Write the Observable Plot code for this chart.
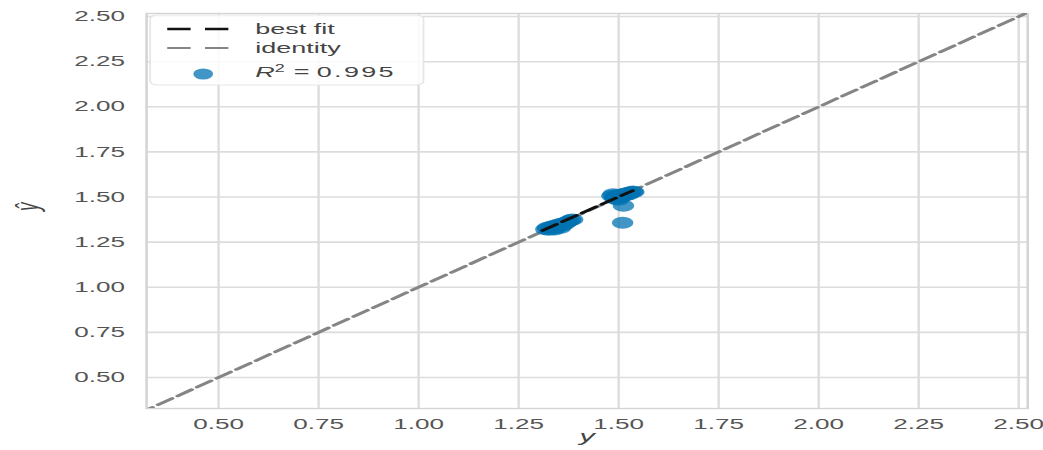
<!DOCTYPE html>
<html><head><meta charset="utf-8">
<script src="https://cdn.jsdelivr.net/npm/d3@7"></script>
<script src="https://cdn.jsdelivr.net/npm/@observablehq/plot@0.6"></script>
<style>body{margin:0;background:#fff;overflow:hidden}</style>
</head><body><div id="chart"></div>
<script>
// actual values (y) and predicted values (ŷ)
const actualY = [1.318,1.322,1.326,1.330,1.334,1.338,1.342,1.346,1.350,1.354,1.358,1.362,1.366,1.370,1.375,1.380,1.385,1.340,1.355,
  1.483,1.486,1.490,1.494,1.498,1.502,1.506,1.510,1.514,1.518,1.522,1.526,1.530,1.535,1.538,1.500,1.492,
  1.512,1.510];
const predictedY = [1.322,1.330,1.318,1.335,1.326,1.340,1.330,1.345,1.336,1.350,1.342,1.355,1.350,1.360,1.365,1.372,1.375,1.320,1.330,
  1.505,1.515,1.498,1.510,1.505,1.495,1.512,1.505,1.518,1.510,1.522,1.515,1.525,1.530,1.528,1.485,1.490,
  1.452,1.357];
const fitX = [1.31, 1.535];
const fitY = [1.315, 1.535];
const identityXY = [0.30, 2.53];
const tickValues = [0.50, 0.75, 1.00, 1.25, 1.50, 1.75, 2.00, 2.25, 2.50];
const legendLabels = ["best fit", "identity"];
const r2 = 0.995;

const W = 580, H = 450, OUTW = 1043;
const points = actualY.map((a, i) => ({a, p: predictedY[i]}));
const fit = fitX.map((x, i) => ({x, y: fitY[i]}));
const ident = identityXY.map(v => ({x: v, y: v}));
const gridColor = "#dcdcdc";
const FONT = "Liberation Sans, Arial, sans-serif";

const svg = Plot.plot({
  width: W, height: H,
  marginLeft: 81, marginRight: 9, marginTop: 13, marginBottom: 42,
  style: {fontFamily: FONT, fontSize: "14.5px", color: "#555", background: "#fff"},
  x: {domain: [0.32, 2.5225]},
  y: {domain: [0.328, 2.517]},
  marks: [
    Plot.gridX(tickValues, {stroke: gridColor, strokeOpacity: 1, strokeWidth: 1.3}),
    Plot.gridY(tickValues, {stroke: gridColor, strokeOpacity: 1, strokeWidth: 1.6}),
    Plot.frame({stroke: "#d4d4d4", strokeWidth: 1.4}),
    Plot.axisX(tickValues, {tickSize: 0, tickPadding: 10, tickFormat: d3.format(".2f"), label: null, fill: "#555"}),
    Plot.axisY(tickValues, {tickSize: 0, tickPadding: 12, tickFormat: d3.format(".2f"), label: null, fill: "#555"}),
    Plot.line(ident, {x: "x", y: "y", stroke: "#858585", strokeWidth: 2.6, strokeDasharray: "10,4", clip: true}),
    Plot.dot(points, {x: "a", y: "p", r: 6, fill: "#0173B2", fillOpacity: 0.75, stroke: "none"}),
    Plot.line(fit, {x: "x", y: "y", stroke: "#111", strokeWidth: 2.6, strokeDasharray: "10,4"}),
    Plot.text(["y"], {frameAnchor: "bottom", dy: 33, fontStyle: "italic", fontSize: 17, fill: "#444"}),
    Plot.text(["ŷ"], {frameAnchor: "left", dx: -66, rotate: -90, fontStyle: "italic", fontSize: 17, fill: "#444"})
  ]
});

// legend (drawn in the same SVG so it is stretched with the chart)
const g = d3.select(svg).append("g").attr("font-family", FONT).attr("font-size", 15)
  .attr("fill", "#444").attr("text-anchor", "start");
g.append("rect").attr("x", 83.5).attr("y", 15).attr("width", 152).attr("height", 70).attr("rx", 4)
  .attr("fill", "#fff").attr("fill-opacity", 0.85).attr("stroke", "#e6e6e6");
const legendStroke = ["#111", "#858585"];
legendLabels.forEach((lab, i) => {
  const y = 29 + i * 19;
  g.append("line").attr("x1", 93).attr("x2", 127).attr("y1", y).attr("y2", y)
    .attr("stroke", legendStroke[i]).attr("stroke-width", i === 0 ? 2.6 : 2.2).attr("stroke-dasharray", "13,8");
  g.append("text").attr("x", 142).attr("y", y).attr("dy", "0.35em").text(lab);
});
g.append("ellipse").attr("cx", 113).attr("cy", 74).attr("rx", 5.5).attr("ry", 5.5)
  .attr("fill", "#0173B2").attr("fill-opacity", 0.75);
const t = g.append("text").attr("x", 142).attr("y", 72).attr("dy", "0.35em");
t.append("tspan").attr("font-style", "italic").text("R");
t.append("tspan").attr("font-size", 10).attr("dy", "-0.5em").text("2");
t.append("tspan").attr("dy", "0.35em").attr("dx", 5).text("=");
t.append("tspan").attr("dx", 4).attr("letter-spacing", 1.3).text(r2.toFixed(3));

svg.setAttribute("width", OUTW);
svg.setAttribute("height", H);
svg.setAttribute("viewBox", `0 0 ${W} ${H}`);
svg.setAttribute("preserveAspectRatio", "none");
svg.style.width = OUTW + "px";
svg.style.height = H + "px";
svg.style.maxWidth = "none";
document.getElementById("chart").append(svg);
</script>
</body></html>
